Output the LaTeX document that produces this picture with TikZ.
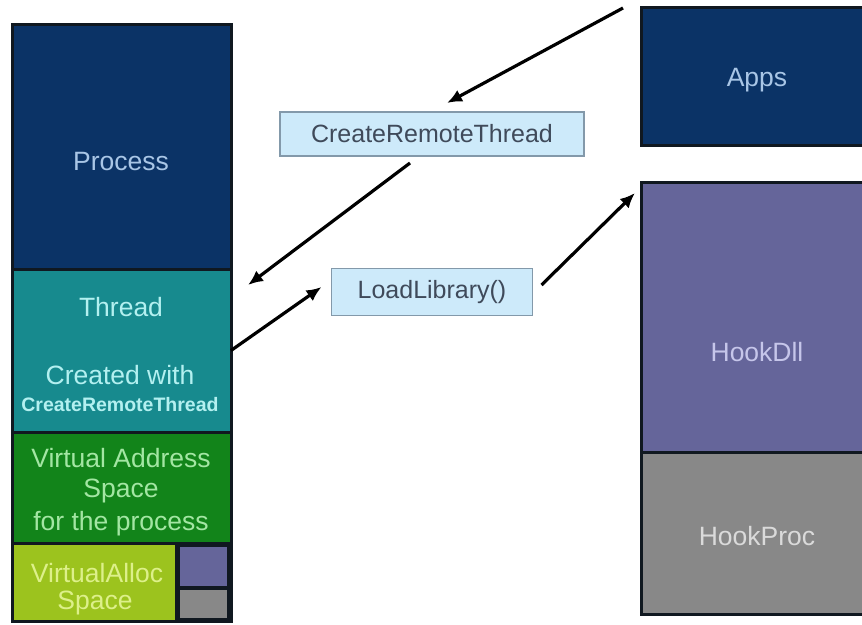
\documentclass[tikz,border=0pt]{standalone}
\usepackage{fontspec}
\setmainfont{Liberation Sans}
\usetikzlibrary{arrows.meta,calc}

\definecolor{navy}{HTML}{0B3366}
\definecolor{teal}{HTML}{178A8E}
\definecolor{vgreen}{HTML}{12841A}
\definecolor{lime}{HTML}{9CC31E}
\definecolor{dllpurple}{HTML}{65659A}
\definecolor{procgray}{HTML}{888888}
\definecolor{callfill}{HTML}{CDEAFA}
\definecolor{callborder}{HTML}{8399AA}
\definecolor{calltext}{HTML}{3F4A5A}
\definecolor{navytext}{HTML}{A9C6E6}
\definecolor{tealtext}{HTML}{B3F0F0}
\definecolor{greentext}{HTML}{A3E6A3}
\definecolor{limetext}{HTML}{DDF08A}
\definecolor{purpletext}{HTML}{C6C6EA}
\definecolor{graytext}{HTML}{DADADA}
\definecolor{frame}{HTML}{101820}

\tikzset{
  block/.style={draw=frame, line width=3pt, inner sep=0pt, outer sep=0pt, anchor=north west},
  cell/.style={inner sep=0pt, outer sep=0pt, anchor=north west},
  call/.style={draw=callborder, fill=callfill, line width=1.8pt, inner sep=0pt, outer sep=0pt,
    text=calltext, font=\fontsize{25}{30}\selectfont},
  lbl/.style={inner sep=0pt, font=\fontsize{26.5}{32}\selectfont},
  arr/.style={line width=3.2pt, -{Latex[length=15pt,width=13pt]}}
}

\begin{document}
\begin{tikzpicture}[x=1pt,y=-1pt]
\useasboundingbox (0,0) rectangle (862,624);
\fill[white] (0,0) rectangle (862,624);

% target process (left column)
\node[block, fill=navy, minimum width=219, minimum height=245] (proc) at (12,24) {};
\node[block, fill=teal, minimum width=219, minimum height=163] (thread) at (12,269) {};
\node[block, fill=vgreen, minimum width=219, minimum height=111] (vas) at (12,432) {};
\node[block, fill=frame, minimum width=219, minimum height=78] (vrow) at (12,543) {};
\node[cell, fill=lime, minimum width=161, minimum height=75] (valloc) at (13.5,544.5) {};
\node[cell, fill=dllpurple, minimum width=47, minimum height=39] (vdll) at (180,547) {};
\node[cell, fill=procgray, minimum width=47, minimum height=28] (vproc) at (180,590) {};

\node[lbl, text=navytext] (proct) at (121,162) {Process};
\node[lbl, text=tealtext] (threadt) at (121,307) {Thread};
\node[lbl, text=tealtext] (createdt) at (120,375) {Created with};
\node[inner sep=0pt, text=tealtext, font=\bfseries\fontsize{19.5}{22}\selectfont] (crtsmall) at (120,405) {CreateRemoteThread};
\node[lbl, text=greentext] (vas1) at (121,458) {Virtual Address};
\node[lbl, text=greentext] (vas2) at (121,491) {Space};
\node[lbl, text=greentext] (vas3) at (121,524) {for the process};
\node[lbl, text=limetext] (va1) at (97,573) {VirtualAlloc};
\node[lbl, text=limetext] (va2) at (95,603) {Space};

% injecting application (right column)
\node[block, fill=navy, minimum width=225, minimum height=138] (apps) at (641,7) {};
\node[block, fill=dllpurple, minimum width=225, minimum height=270] (hookdll) at (641,182) {};
\node[block, fill=procgray, minimum width=225, minimum height=162] (hookproc) at (641,452) {};
\node[lbl, text=navytext] (appst) at (757,80) {Apps};
\node[lbl, text=purpletext] (hookdllt) at (757,352) {HookDll};
\node[lbl, text=graytext] (hookproct) at (757,536) {HookProc};

% API calls
\node[call, minimum width=304, minimum height=44] (crt) at (432,134) {CreateRemoteThread};
\node[call, minimum width=201, minimum height=47] (ll) at (432,292) {LoadLibrary()};

% arrows
\coordinate (src) at (623,8);
\draw[arr] (src) -- ($(crt.north)+(15,-9)$);
\draw[arr] ($(crt.south)+(-22,7)$) -- ($(thread.north east)+(17,16)$);
\draw[arr] (thread.east) -- ($(ll.west)+(-10,-5)$);
\draw[arr] ($(ll.east)+(9,-7)$) -- ($(hookdll.north west)+(-6,11)$);
\end{tikzpicture}
\end{document}
